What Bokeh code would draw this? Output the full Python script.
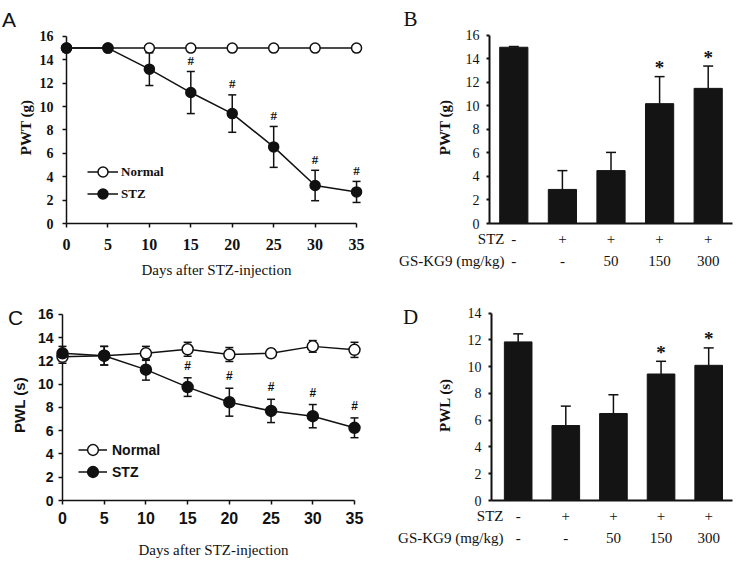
from bokeh.plotting import figure
from bokeh.layouts import row, column
from bokeh.models import (ColumnDataSource, FixedTicker, Legend, LegendItem, Range1d)
from bokeh.embed import file_html
from bokeh.resources import INLINE
from bokeh.core.properties import value

# ---------------- data ----------------
days = [0, 5, 10, 15, 20, 25, 30, 35]
day_ticks = [0, 5, 10, 15, 20, 25, 30, 35]
sig_days = ["", "", "", "#", "#", "#", "#", "#"]

# Panel A: PWT (g) over time
pwt_normal = [15, 15, 15, 15, 15, 15, 15, 15]
pwt_normal_sem = [0, 0, 0, 0, 0, 0, 0, 0]
pwt_stz = [15.0, 15.0, 13.2, 11.2, 9.4, 6.55, 3.25, 2.7]
pwt_stz_sem = [0, 0, 1.4, 1.8, 1.6, 1.75, 1.3, 0.9]

# Panel B: PWT (g) by treatment
stz_row = ["-", "+", "+", "+", "+"]
gskg9_row = ["-", "-", "50", "150", "300"]
pwt_bar = [15.0, 2.9, 4.5, 10.2, 11.5]
pwt_bar_sem = [0.06, 1.6, 1.55, 2.3, 1.9]
pwt_bar_sig = ["", "", "", "*", "*"]

# Panel C: PWL (s) over time
pwl_normal = [12.35, 12.45, 12.65, 13.0, 12.55, 12.65, 13.25, 12.95]
pwl_normal_sem = [0.55, 0.8, 0.6, 0.6, 0.6, 0.35, 0.5, 0.65]
pwl_stz = [12.65, 12.45, 11.25, 9.75, 8.45, 7.7, 7.25, 6.25]
pwl_stz_sem = [0.6, 0.8, 0.9, 0.8, 1.2, 1.0, 1.0, 0.85]

# Panel D: PWL (s) by treatment
pwl_bar = [11.85, 5.6, 6.5, 9.45, 10.1]
pwl_bar_sem = [0.6, 1.45, 1.4, 0.95, 1.3]
pwl_bar_sig = ["", "", "", "*", "*"]

y_ticks16 = [0, 2, 4, 6, 8, 10, 12, 14, 16]
y_ticks14 = [0, 2, 4, 6, 8, 10, 12, 14]

SERIF = "Liberation Serif"
SANS = "Liberation Sans"
INK = "#111111"
BAR = "#141414"


def base_fig(w, h, xr, yr, ml, mr, mt, mb):
    p = figure(width=w, height=h, x_range=Range1d(*xr), y_range=Range1d(*yr),
               output_backend="svg", toolbar_location=None,
               min_border_left=ml, min_border_right=mr,
               min_border_top=mt, min_border_bottom=mb)
    p.grid.visible = False
    p.outline_line_color = None
    p.border_fill_color = "white"
    p.background_fill_color = "white"
    return p


def style_axis(ax, font, style, tick_size, lw, tick_out, standoff,
               label, label_font, label_style, label_size, label_standoff,
               ticks, bounds):
    ax.ticker = FixedTicker(ticks=ticks)
    if bounds is not None:
        ax.bounds = bounds
    ax.axis_line_width = lw
    ax.axis_line_color = INK
    ax.major_tick_line_width = lw
    ax.major_tick_line_color = INK
    ax.major_tick_in = 0
    ax.major_tick_out = tick_out
    ax.minor_tick_line_color = None
    ax.major_label_text_font = font
    ax.major_label_text_font_style = style
    ax.major_label_text_font_size = tick_size
    ax.major_label_text_color = INK
    ax.major_label_standoff = standoff
    ax.axis_label = label
    ax.axis_label_text_font = label_font
    ax.axis_label_text_font_style = label_style
    ax.axis_label_text_font_size = label_size
    ax.axis_label_text_color = INK
    ax.axis_label_standoff = label_standoff


def errorbars(p, src, lower, upper, cap, lw=1.5, both=True):
    p.segment(x0="x", y0=lower, x1="x", y1=upper, source=src, line_color=INK,
              line_width=lw, level="overlay")
    p.scatter(x="x", y=upper, source=src, marker="dash", size=cap, line_color=INK,
              line_width=lw, level="overlay")
    if both:
        p.scatter(x="x", y=lower, source=src, marker="dash", size=cap, line_color=INK,
                  line_width=lw, level="overlay")


def legend(item_label, rends, loc, gw, gh, standoff, font, size):
    return Legend(items=[LegendItem(label=item_label, renderers=rends)], location=loc,
                  glyph_width=gw, glyph_height=gh, label_standoff=standoff,
                  padding=0, margin=0, spacing=0, border_line_color=None,
                  background_fill_alpha=0, label_text_font=font,
                  label_text_font_style="bold", label_text_font_size=size,
                  label_text_color=INK, label_height=gh)


def page_to_data(px, py, X0, sx, Y0, sy):
    return (px - X0) / sx, (Y0 - py) / sy


def free_text(p, x, y, txt, font, size, align="center", style="normal"):
    src = ColumnDataSource(dict(x=[x], y=[y], t=[txt]))
    p.text(x="x", y="y", text="t", source=src, text_font=value(font),
           text_font_size=size, text_font_style=style, text_align=align,
           text_baseline="middle", text_color=INK, level="overlay")


def line_panel(w, h, xr, yr, frame, normal, nsem, stz, ssem, font, tick_y, tick_x,
               ylabel, yl_standoff, xl_standoff, x_standoff, y_standoff,
               msize, sig_font, sig_size, sig_off, leg_locs, leg_gw, leg_gh,
               leg_standoff, leg_font, leg_size, letter, letter_pos, letter_size):
    ml, mr, mt, mb = frame
    p = base_fig(w, h, xr, yr, ml, mr, mt, mb)
    sn = ColumnDataSource(dict(x=days, y=normal,
                               lo=[m - s for m, s in zip(normal, nsem)],
                               hi=[m + s for m, s in zip(normal, nsem)]))
    ss = ColumnDataSource(dict(x=days, y=stz,
                               lo=[m - s for m, s in zip(stz, ssem)],
                               hi=[m + s for m, s in zip(stz, ssem)], sig=sig_days))
    errorbars(p, sn, "lo", "hi", 8)
    errorbars(p, ss, "lo", "hi", 8)
    rnl = p.line("x", "y", source=sn, line_color=INK, line_width=1.5, level="overlay")
    rsl = p.line("x", "y", source=ss, line_color=INK, line_width=1.5, level="overlay")
    rnp = p.scatter("x", "y", source=sn, marker="circle", size=msize,
                    fill_color="white", line_color=INK, line_width=1.5, level="overlay")
    rsp = p.scatter("x", "y", source=ss, marker="circle", size=msize,
                    fill_color=INK, line_color=INK, line_width=1.5, level="overlay")
    p.text(x="x", y="hi", text="sig", source=ss, text_font=value(sig_font),
           text_font_style="bold", text_font_size=sig_size, text_align="center",
           text_baseline="alphabetic", y_offset=sig_off, text_color=INK)
    yax = p.yaxis[0]
    style_axis(yax, font, "bold", tick_y, 1.5, 4, y_standoff, ylabel, font, "bold", "15px",
               yl_standoff, y_ticks16, (0, 16))
    xax = p.xaxis[0]
    style_axis(xax, font, "bold", tick_x, 1.5, 4, x_standoff, "Days after STZ-injection",
               SERIF, "normal", "15px", xl_standoff, day_ticks, (0, 35))
    p.add_layout(legend("Normal", [rnl, rnp], leg_locs[0], leg_gw, leg_gh,
                        leg_standoff, leg_font, leg_size))
    p.add_layout(legend("STZ", [rsl, rsp], leg_locs[1], leg_gw, leg_gh,
                        leg_standoff, leg_font, leg_size))
    free_text(p, letter_pos[0], letter_pos[1], letter, SANS, letter_size)
    return p


def bar_panel(w, h, xr, yr, frame, vals, sems, sig, yticks, ybound, ylabel, yl_standoff,
              letter, conv, rows_py, header_px, letter_px):
    ml, mr, mt, mb = frame
    p = base_fig(w, h, xr, yr, ml, mr, mt, mb)
    xc = [i + 0.5 for i in range(len(vals))]
    src = ColumnDataSource(dict(x=xc, top=vals, hi=[v + s for v, s in zip(vals, sems)], sig=sig))
    errorbars(p, src, "top", "hi", 10, both=False)
    p.vbar(x="x", top="top", width=0.58, source=src, fill_color=BAR, line_color=BAR,
           level="overlay")
    p.text(x="x", y="hi", text="sig", source=src, text_font=value(SERIF),
           text_font_style="bold", text_font_size="19px", text_align="center",
           text_baseline="alphabetic", y_offset=-9, text_color=INK)
    yax = p.yaxis[0]
    style_axis(yax, SERIF, "normal", "14px", 2, 3, 7, ylabel, SERIF, "bold", "15px",
               yl_standoff, yticks, ybound)
    xax = p.xaxis[0]
    xax.ticker = FixedTicker(ticks=[])
    xax.axis_line_width = 2
    xax.axis_line_color = INK
    xax.major_tick_line_color = None
    xax.minor_tick_line_color = None
    xax.major_label_text_font_size = "0px"
    # treatment rows under the axis
    _, y1 = conv(0, rows_py[0])
    _, y2 = conv(0, rows_py[1])
    for xi, a, b in zip(xc, stz_row, gskg9_row):
        free_text(p, xi, y1, a, SERIF, "15px")
        free_text(p, xi, y2, b, SERIF, "15px")
    hx, _ = conv(header_px, 0)
    free_text(p, hx, y1, "STZ", SERIF, "15px", align="right")
    free_text(p, hx, y2, "GS-KG9 (mg/kg)", SERIF, "15px", align="right")
    lx, ly = conv(*letter_px)
    free_text(p, lx, ly, letter, SERIF, "21px")
    return p


# ---- panel A (page origin 0,0) ----
convA = lambda px, py: page_to_data(px, py, 66, 8.286, 225, 11.875)
pA = line_panel(378, 282, (0, 36.2), (0, 16.42), (66, 12, 30, 57),
                pwt_normal, pwt_normal_sem, pwt_stz, pwt_stz_sem, SERIF, "14px", "16px",
                "PWT (g)", 3, 9, 11, 9, 10, SERIF, "13px", -11,
                [(21, 39), (21, 17)], 31, 25, 3, SERIF, "13px",
                "A", convA(8.5, 18), "21px")

# ---- panel B (page origin 378,0) ----
convB = lambda px, py: page_to_data(px, py, 489, 48.6, 223, 11.75)
pB = bar_panel(362, 282, (0, 5), (0, 16.34), (111, 8, 31, 59),
               pwt_bar, pwt_bar_sem, pwt_bar_sig, y_ticks16, (0, 16), "PWT (g)", 10,
               "B", convB, (238, 260), 504, (410, 19))

# ---- panel C (page origin 0,282) ----
convC = lambda px, py: page_to_data(px, py, 62, 8.343, 503, 11.875)
pC = line_panel(378, 278, (0, 36.2), (0, 16.42), (62, 14, 26, 57),
                pwl_normal, pwl_normal_sem, pwl_stz, pwl_stz_sem, SANS, "14px", "16px",
                "PWL (s)", 7, 15, 7, 5, 11, SANS, "12px", -12,
                [(16, 37), (16, 15)], 29, 27, 5, SANS, "14px",
                "C", convC(15, 316), "21px")

# ---- panel D (page origin 378,282) ----
convD = lambda px, py: page_to_data(px, py, 493.86, 47.63, 502, 13.52)
pD = bar_panel(362, 278, (-0.06, 5.0), (0, 14.27), (113, 8, 27, 58),
               pwl_bar, pwl_bar_sem, pwl_bar_sig, y_ticks14, (0, 14), "PWL (s)", 12,
               "D", convD, (518, 540), 503, (410, 317))

layout = column(row(pA, pB), row(pC, pD))
open("out.html", "w").write(file_html(layout, INLINE))
